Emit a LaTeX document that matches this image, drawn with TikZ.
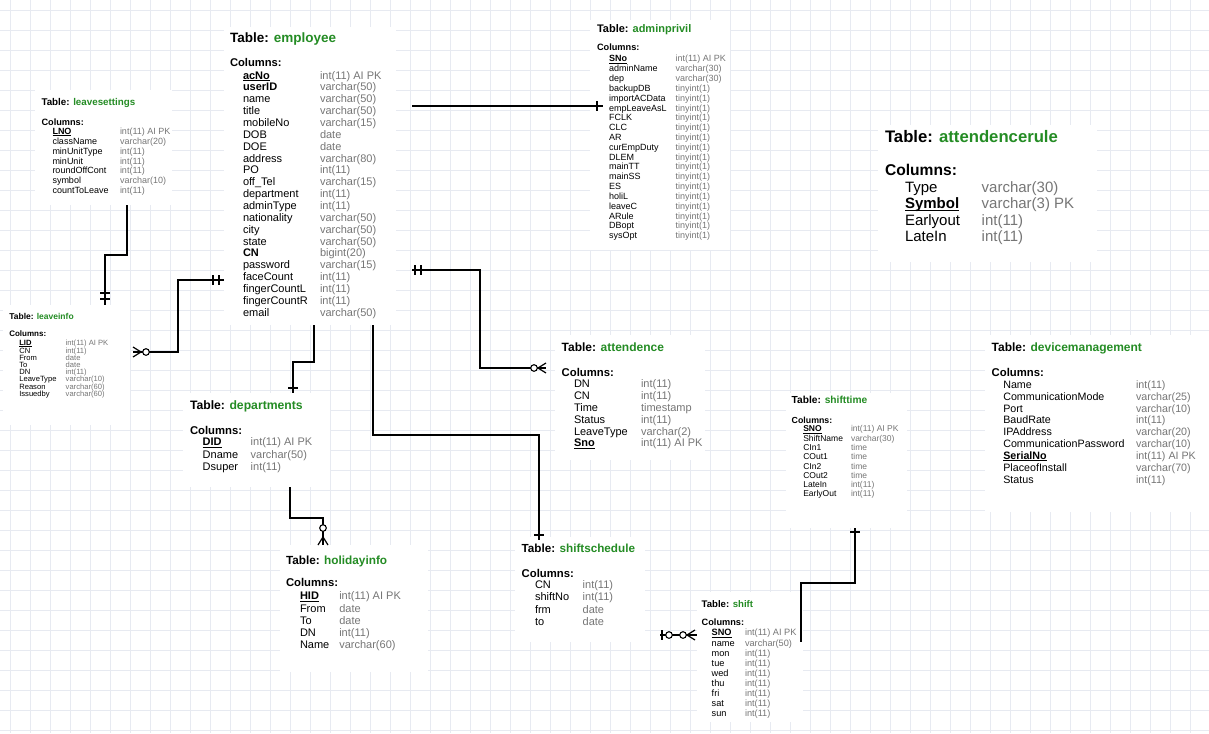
\documentclass[tikz,border=0pt]{standalone}
\usepackage{fontspec}
\setmainfont{Liberation Sans}
\definecolor{ttlgreen}{RGB}{36,140,36}
\definecolor{typgray}{RGB}{118,118,118}
\definecolor{gridc}{RGB}{231,234,241}
\newcommand\pkn[1]{\setbox0\hbox{\textbf{#1}}\rlap{\rule[-0.16em]{\wd0}{0.09em}}\box0}
\newcommand\ertitle[5]{% name, x, y, size, nodename
  \node[txt, font=\fontsize{#4}{#4}\selectfont\bfseries] (#5-title) at (#2,#3) {Table: \textcolor{ttlgreen}{#1}};}
\newcommand\ercols[4]{% x, y, size, nodename
  \node[txt, font=\fontsize{#3}{#3}\selectfont\bfseries] (#4-cols) at (#1,#2) {Columns:};}
\newcommand\errows[7]{% xn, xt, y0, dy, size, prefix, list
  \foreach \n/\t [count=\i] in {#7} {
    \node[txt, font=\fontsize{#5}{#5}\selectfont] (#6-n\i) at (#1, {#3+(\i-1)*#4}) {\n};
    \node[txt, font=\fontsize{#5}{#5}\selectfont, text=typgray] (#6-t\i) at (#2, {#3+(\i-1)*#4}) {\t};
  }}
\tikzset{
  txt/.style={anchor=mid west, inner sep=0pt, outer sep=0pt},
  tbox/.style={fill=white, draw=none, anchor=north west, inner sep=0pt, outer sep=0pt},
  rel/.style={draw=black, line width=1.2pt},
  gridline/.style={draw=gridc, line width=0.6pt},
  ring/.style={draw=black, line width=1.1pt, fill=white}
}
\begin{document}
\begin{tikzpicture}[x=1pt, y=-1pt]
\useasboundingbox (0,0) rectangle (1209,733);
\fill[white] (0,0) rectangle (1209,733);
\foreach \gx in {10,30,...,1209} \draw[gridline] (\gx,0) -- (\gx,733);
\foreach \gy in {10,30,...,733} \draw[gridline] (0,\gy) -- (1209,\gy);

% ---------- boxes ----------
\node[tbox, minimum width=172, minimum height=298] (employee) at (224,27) {};
\node[tbox, minimum width=140, minimum height=230] (adminprivil) at (590,20) {};
\node[tbox, minimum width=137, minimum height=115] (leavesettings) at (35,90) {};
\node[tbox, minimum width=127, minimum height=120] (leaveinfo) at (3,305) {};
\node[tbox, minimum width=147, minimum height=94] (departments) at (183,393) {};
\node[tbox, minimum width=148, minimum height=127] (holidayinfo) at (280,545) {};
\node[tbox, minimum width=150, minimum height=125] (attendence) at (555,335) {};
\node[tbox, minimum width=130, minimum height=105] (shiftschedule) at (515,537) {};
\node[tbox, minimum width=121, minimum height=135] (shifttime) at (786,393) {};
\node[tbox, minimum width=106, minimum height=130] (shift) at (697,592) {};
\node[tbox, minimum width=224, minimum height=177] (devicemanagement) at (985,335) {};
\node[tbox, minimum width=219, minimum height=137] (attendencerule) at (878,125) {};

% ---------- connectors ----------
% employee - adminprivil
\draw[rel] ([xshift=16]employee.east |- 0,106) -- ([xshift=13]adminprivil.west |- 0,106);
\draw[rel] (597,101) -- (597,111);
% leavesettings - leaveinfo
\draw[rel] (leavesettings.south -| 127,0) -- (127,255) -- (105,255) -- (leaveinfo.north -| 105,0);
\draw[rel] (100,293) -- (110,293) (100,299) -- (110,299);
% employee - leaveinfo
\draw[rel] (employee.west |- 0,280) -- (178,280) -- (178,352) -- ([xshift=3]leaveinfo.east |- 0,352);
\draw[rel] (213,275) -- (213,285) (219,275) -- (219,285);
\draw[rel] (133,347) -- (141,352) -- (133,357);
\draw[ring] (146,352) circle (3.3);
% employee - departments
\draw[rel] (employee.south -| 314,0) -- (314,362) -- (293,362) -- (departments.north -| 293,0);
\draw[rel] (288,388) -- (298,388);
% employee - attendence
\draw[rel] ([xshift=16]employee.east |- 0,270) -- (480,270) -- (480,368) -- ([xshift=-9]attendence.west |- 0,368);
\draw[rel] (415,265) -- (415,275) (421,265) -- (421,275);
\draw[rel] (546,363) -- (538,368) -- (546,373);
\draw[ring] (534,368) circle (3.3);
% employee - shiftschedule
\draw[rel] (employee.south -| 373,0) -- (373,435) -- (539,435) -- ([yshift=-3]shiftschedule.north -| 539,0);
\draw[rel] (534,535) -- (544,535);
% departments - holidayinfo
\draw[rel] (departments.south -| 290,0) -- (290,518) -- (323,518) -- (holidayinfo.north -| 323,0);
\draw[rel] (318,545) -- (323,537) -- (328,545);
\draw[ring] (323,528) circle (3.3);
% shift (left)
\coordinate (shiftfree) at (660,635);
\draw[rel] (shiftfree) -- (shift.west |- 0,635);
\draw[rel] (662,630) -- (662,640);
\draw[ring] (669,635) circle (3.3);
\draw[ring] (683,635) circle (3.3);
\draw[rel] (695,630) -- (687,635) -- (695,640);
% shifttime - shift
\coordinate (shiftedge) at (801,642);
\draw[rel] (shifttime.south -| 855,0) -- (855,583) -- (801,583) -- (shiftedge);
\draw[rel] (850,532) -- (860,532);

% ---------- employee ----------
\ertitle{employee}{230}{40}{13.5}{employee}
\ercols{230}{64}{11.2}{employee}
\errows{243}{320}{76.5}{11.85}{11}{employee}{{\pkn{acNo}}/{int(11) AI PK},{\textbf{userID}}/{varchar(50)},name/{varchar(50)},title/{varchar(50)},mobileNo/{varchar(15)},DOB/date,DOE/date,address/{varchar(80)},PO/{int(11)},{off\_Tel}/{varchar(15)},department/{int(11)},adminType/{int(11)},nationality/{varchar(50)},city/{varchar(50)},state/{varchar(50)},{\textbf{CN}}/{bigint(20)},password/{varchar(15)},faceCount/{int(11)},fingerCountL/{int(11)},fingerCountR/{int(11)},email/{varchar(50)}}

% ---------- adminprivil ----------
\ertitle{adminprivil}{597}{29.5}{11}{adminprivil}
\ercols{597}{48}{9.2}{adminprivil}
\errows{609}{675.5}{59.3}{9.82}{9}{adminprivil}{{\pkn{SNo}}/{int(11) AI PK},adminName/{varchar(30)},dep/{varchar(30)},backupDB/{tinyint(1)},importACData/{tinyint(1)},empLeaveAsL/{tinyint(1)},FCLK/{tinyint(1)},CLC/{tinyint(1)},AR/{tinyint(1)},curEmpDuty/{tinyint(1)},DLEM/{tinyint(1)},mainTT/{tinyint(1)},mainSS/{tinyint(1)},ES/{tinyint(1)},holiL/{tinyint(1)},leaveC/{tinyint(1)},ARule/{tinyint(1)},DBopt/{tinyint(1)},sysOpt/{tinyint(1)}}

% ---------- leavesettings ----------
\ertitle{leavesettings}{41.5}{103}{9.8}{leavesettings}
\ercols{41.5}{123}{9.2}{leavesettings}
\errows{52.5}{120}{131.7}{9.9}{9}{leavesettings}{{\pkn{LNO}}/{int(11) AI PK},className/{varchar(20)},minUnitType/{int(11)},minUnit/{int(11)},roundOffCont/{int(11)},symbol/{varchar(10)},countToLeave/{int(11)}}

% ---------- leaveinfo ----------
\ertitle{leaveinfo}{9.3}{316.7}{8.5}{leaveinfo}
\ercols{9.3}{334}{8}{leaveinfo}
\errows{19.3}{65.7}{343.3}{7.2}{7.6}{leaveinfo}{{\pkn{LID}}/{int(11) AI PK},CN/{int(11)},From/date,To/date,DN/{int(11)},LeaveType/{varchar(10)},Reason/{varchar(60)},Issuedby/{varchar(60)}}

% ---------- departments ----------
\ertitle{departments}{190}{406.7}{12.2}{departments}
\ercols{190}{431.7}{11.3}{departments}
\errows{202.7}{250.7}{443.3}{12.2}{11}{departments}{{\pkn{DID}}/{int(11) AI PK},Dname/{varchar(50)},Dsuper/{int(11)}}

% ---------- holidayinfo ----------
\ertitle{holidayinfo}{286}{561.7}{11.8}{holidayinfo}
\ercols{286}{584.3}{11.3}{holidayinfo}
\errows{300}{339.3}{597.3}{12.1}{11}{holidayinfo}{{\pkn{HID}}/{int(11) AI PK},From/date,To/date,DN/{int(11)},Name/{varchar(60)}}

% ---------- attendence ----------
\ertitle{attendence}{561.7}{349}{12}{attendence}
\ercols{561.7}{374.3}{11.3}{attendence}
\errows{574}{641}{385}{11.87}{11}{attendence}{DN/{int(11)},CN/{int(11)},Time/timestamp,Status/{int(11)},LeaveType/{varchar(2)},{\pkn{Sno}}/{int(11) AI PK}}

% ---------- shiftschedule ----------
\ertitle{shiftschedule}{521.7}{550}{11.7}{shiftschedule}
\ercols{521.7}{575}{11.3}{shiftschedule}
\errows{535}{582.7}{585.7}{12.5}{11}{shiftschedule}{CN/{int(11)},shiftNo/{int(11)},frm/date,to/date}

% ---------- shifttime ----------
\ertitle{shifttime}{791.7}{401}{10.2}{shifttime}
\ercols{791.7}{421}{8.8}{shifttime}
\errows{803.3}{851}{429.3}{9.29}{8.5}{shifttime}{{\pkn{SNO}}/{int(11) AI PK},ShiftName/{varchar(30)},CIn1/time,COut1/time,CIn2/time,COut2/time,LateIn/{int(11)},EarlyOut/{int(11)}}

% ---------- shift ----------
\ertitle{shift}{701.7}{605}{9.6}{shift}
\ercols{701.7}{623.3}{9.2}{shift}
\errows{711.7}{745}{633.3}{10.1}{9.2}{shift}{{\pkn{SNO}}/{int(11) AI PK},name/{varchar(50)},mon/{int(11)},tue/{int(11)},wed/{int(11)},thu/{int(11)},fri/{int(11)},sat/{int(11)},sun/{int(11)}}

% ---------- devicemanagement ----------
\ertitle{devicemanagement}{991.7}{349}{12}{devicemanagement}
\ercols{991.7}{374.3}{11.3}{devicemanagement}
\errows{1003.3}{1136}{385.7}{11.875}{10.7}{devicemanagement}{Name/{int(11)},CommunicationMode/{varchar(25)},Port/{varchar(10)},BaudRate/{int(11)},IPAddress/{varchar(20)},CommunicationPassword/{varchar(10)},{\pkn{SerialNo}}/{int(11) AI PK},PlaceofInstall/{varchar(70)},Status/{int(11)}}

% ---------- attendencerule ----------
\ertitle{attendencerule}{885}{140}{16.7}{attendencerule}
\ercols{885}{172.7}{15.6}{attendencerule}
\errows{905}{981.7}{190}{16.33}{15}{attendencerule}{Type/{varchar(30)},{\pkn{Symbol}}/{varchar(3) PK},Earlyout/{int(11)},LateIn/{int(11)}}
\end{tikzpicture}
\end{document}
